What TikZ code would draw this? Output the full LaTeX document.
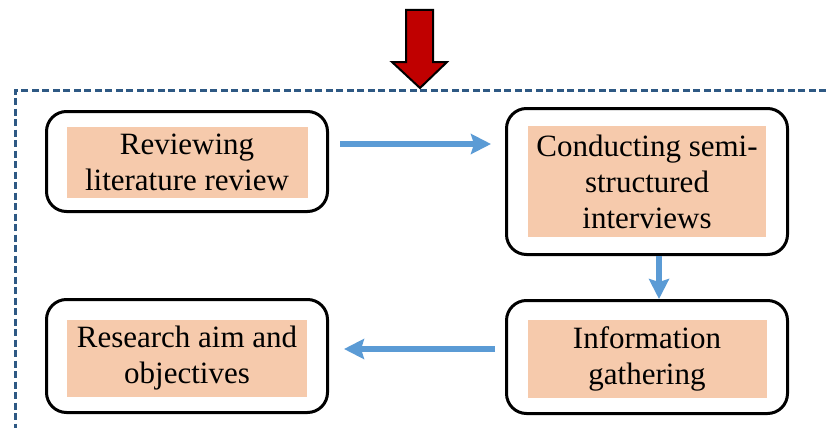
\documentclass[tikz,border=0pt]{standalone}
\usepackage{fontspec}
\setmainfont{Liberation Serif}
\usepackage{tikz}
\usetikzlibrary{arrows.meta}
\definecolor{darkred}{RGB}{192,0,0}
\definecolor{peach}{RGB}{246,202,172}
\definecolor{flowblue}{RGB}{91,155,213}
\definecolor{frameblue}{RGB}{46,89,132}

\begin{document}
\begin{tikzpicture}[x=1pt,y=-1pt,
    stage/.style={draw,line width=3pt,rounded corners=20pt,minimum width=281pt},
    label/.style={fill=peach,inner sep=0pt,align=center,font=\fontsize{31}{36}\selectfont},
    flow/.style={draw=flowblue,line width=6pt,-{Stealth[length=20pt,width=20pt,inset=3pt]}}]
\useasboundingbox (0,0) rectangle (826,428);
\draw[frameblue,line width=3pt,dash pattern=on 7pt off 3.5pt] (826,90) -- (15,90) -- (15,428);
\draw[fill=darkred,line width=2pt,line join=miter] (406,10) -- (433,10) -- (433,62) -- (447,62) -- (420,88) -- (392,62) -- (406,62) -- cycle;
\node[stage,minimum height=100pt] (rev) at (187,161.5) {};
\node[label,minimum width=241pt,minimum height=71pt] (revtxt) at (187,162.5) {Reviewing\\literature review};
\node[stage,minimum height=146pt] (con) at (647,181.5) {};
\node[label,minimum width=238pt,minimum height=111pt] (contxt) at (647,181.5) {Conducting semi-\\structured\\interviews};
\node[stage,minimum height=113pt] (inf) at (647,357) {};
\node[label,minimum width=239pt,minimum height=78pt] (inftxt) at (647,359) {Information\\gathering};
\node[stage,minimum height=113pt] (aim) at (187,356) {};
\node[label,minimum width=240pt,minimum height=77pt] (aimtxt) at (187,358.5) {Research aim and\\objectives};
\draw[flow] ([xshift=11pt,yshift=17.5pt]rev.east) -- ([xshift=-14pt,yshift=17.5pt]rev.east -| con.west);
\draw[flow] ([xshift=12pt]con.south) -- ([xshift=12pt]con.south |- inf.north);
\draw[flow] ([xshift=-10pt,yshift=8pt]inf.west) -- ([xshift=15pt,yshift=8pt]inf.west -| aim.east);
\end{tikzpicture}
\end{document}
